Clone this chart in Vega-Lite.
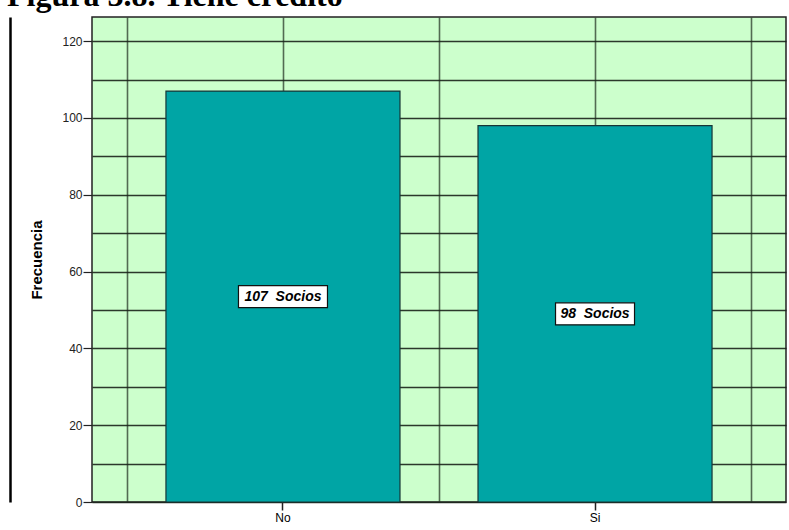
{
  "$schema": "https://vega.github.io/schema/vega-lite/v6.json",
  "width": 694,
  "height": 485,
  "autosize": "none",
  "padding": {"left": 92, "top": 17, "right": 3, "bottom": 28},
  "background": "white",
  "title": {
    "text": "Figura 3.8. Tiene crédito",
    "font": "Liberation Serif",
    "fontSize": 32,
    "fontWeight": "bold",
    "color": "black",
    "anchor": "start",
    "frame": "group",
    "baseline": "alphabetic",
    "offset": 3,
    "dy": 24,
    "dx": -85
  },
  "config": {
    "view": {"fill": "#ccffcc", "stroke": "#222222", "strokeWidth": 1.5},
    "font": "Liberation Sans"
  },
  "data": {
    "values": [
      {"cat": "No", "n": 107, "label": "107\u00a0 Socios"},
      {"cat": "Si", "n": 98, "label": "98\u00a0 Socios"}
    ]
  },
  "layer": [
    {
      "layer": [
        {
          "mark": {"type": "bar", "fill": "#00a5a5", "stroke": "#163636", "strokeWidth": 1.2},
          "encoding": {
            "x": {
              "field": "cat", "type": "nominal", "sort": null,
              "scale": {"paddingInner": 0.25, "paddingOuter": 0.237},
              "axis": {
                "title": null, "labelAngle": 0, "labelFont": "Liberation Sans", "labelFontSize": 12,
                "labelColor": "black", "tickColor": "#222", "tickSize": 8, "tickWidth": 1.5,
                "domain": false, "grid": false, "labelPadding": 2
              }
            },
            "y": {
              "field": "n", "type": "quantitative",
              "scale": {"domain": [0, 126.3], "nice": false},
              "axis": {
                "title": "Frecuencia", "titleFont": "Liberation Sans", "titleFontSize": 15,
                "titleFontWeight": "bold", "titleColor": "black", "titlePadding": 17,
                "values": [0, 10, 20, 30, 40, 50, 60, 70, 80, 90, 100, 110, 120],
                "labelExpr": "datum.value % 20 === 0 ? datum.label : ''",
                "labelFont": "Liberation Sans", "labelFontSize": 12, "labelColor": "#222",
                "labelPadding": 1,
                "tickSize": 9, "tickColor": "#222", "tickWidth": 1.2,
                "tickOpacity": {"condition": {"test": "datum.value % 20 === 0", "value": 1}, "value": 0},
                "grid": true, "gridColor": "#1a221a", "gridWidth": 1.4, "gridOpacity": 0.9,
                "domain": false
              }
            }
          }
        },
        {
          "mark": {"type": "point", "filled": true, "fill": "white", "stroke": "#111", "strokeWidth": 1.2, "opacity": 1},
          "encoding": {
            "x": {"field": "cat", "type": "nominal", "sort": null},
            "y": {"field": "n", "type": "quantitative", "stack": "zero", "bandPosition": 0.5},
            "shape": {
              "condition": {"test": "datum.n >= 100", "value": "M-1,-0.247H1V0.247H-1Z"},
              "value": "M-1,-0.278H1V0.278H-1Z"
            },
            "size": {"condition": {"test": "datum.n >= 100", "value": 7921}, "value": 6241}
          }
        },
        {
          "mark": {"type": "text", "font": "Liberation Sans", "fontSize": 14, "fontWeight": "bold", "fontStyle": "italic", "color": "black"},
          "encoding": {
            "x": {"field": "cat", "type": "nominal", "sort": null},
            "y": {"field": "n", "type": "quantitative", "stack": "zero", "bandPosition": 0.5},
            "text": {"field": "label"}
          }
        }
      ]
    },
    {
      "mark": {"type": "rule", "opacity": 0},
      "encoding": {
        "x": {
          "datum": 1, "type": "quantitative",
          "scale": {"domain": [0.388, 2.612], "nice": false, "zero": false},
          "axis": {
            "orient": "bottom", "values": [0.5, 1, 1.5, 2, 2.5], "labels": false, "ticks": false,
            "domain": false, "title": null, "grid": true, "gridColor": "#2a3a2a", "gridWidth": 1.6, "gridOpacity": 0.75
          }
        },
        "y": {
          "datum": 0.5, "type": "quantitative",
          "scale": {"domain": [0, 1], "nice": false},
          "axis": {
            "orient": "left", "offset": 82, "labels": false, "ticks": false, "grid": false,
            "title": null, "domain": true, "domainColor": "black", "domainWidth": 2.5
          }
        }
      }
    }
  ],
  "resolve": {"scale": {"x": "independent", "y": "independent"}}
}
